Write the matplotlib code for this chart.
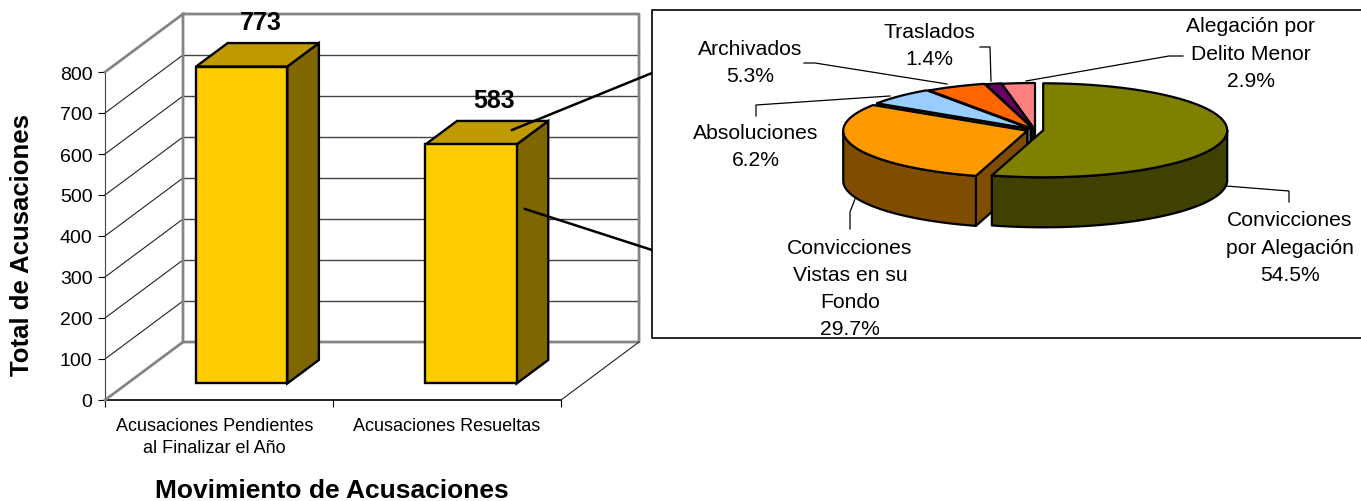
import numpy as np
import matplotlib
matplotlib.use("Agg")
import matplotlib.pyplot as plt

plt.rcParams['font.family'] = ['Liberation Sans', 'DejaVu Sans']

categories = ['Acusaciones Pendientes\nal Finalizar el Año', 'Acusaciones Resueltas']
totals = [773, 583]
y_ticks = [0, 100, 200, 300, 400, 500, 600, 700, 800]
x_title = 'Movimiento de Acusaciones'
y_title = 'Total de Acusaciones'

slice_names = ['Convicciones\npor Alegación', 'Convicciones\nVistas en su\nFondo',
               'Absoluciones', 'Archivados', 'Traslados', 'Alegación por\nDelito Menor']
slice_shares = [54.5, 29.7, 6.2, 5.3, 1.4, 2.9]
slice_colors = ['#808000', '#FF9900', '#99CCFF', '#FF6600', '#660066', '#FF8080']

# oblique depth of the 3D box, in bar-axes units per unit of depth
DX = 78 / 228
DY = 58 / 0.41
GRAY = '#858585'


def project(x, v, z):
    """Move a point of the front plane back along the depth axis."""
    return x + z * DX, v + z * DY


def draw_bar(ax, center, value, nudge):
    """Draw one 3D bar from its value."""
    x0, x1 = center - 0.2 + nudge, center + 0.2 + nudge
    z0, z1 = 0.285, 0.69
    front = [project(x0, 0, z0), project(x1, 0, z0), project(x1, value, z0), project(x0, value, z0)]
    side = [project(x1, 0, z0), project(x1, 0, z1), project(x1, value, z1), project(x1, value, z0)]
    top = [project(x0, value, z0), project(x1, value, z0), project(x1, value, z1), project(x0, value, z1)]
    for poly, color in ((side, '#806600'), (top, '#BF9900'), (front, '#FFCC00')):
        ax.fill(*zip(*poly), facecolor=color, edgecolor='black', linewidth=1.7,
                joinstyle='miter', clip_on=False, zorder=5)
    lx, ly = project(center, value, 0.69)
    ax.text(lx - 0.06 + nudge * 4, ly + 52, str(value), ha='center', va='center', fontsize=18,
            fontweight='bold', clip_on=False, zorder=6)


def draw_box(ax):
    """Draw walls, floor and grid lines of the 3D chart box."""
    for v in y_ticks[1:-1]:
        ax.plot(*zip(project(0, v, 0), project(0, v, 1)), color='#222222', lw=0.8, clip_on=False, zorder=2)
        ax.plot(*zip(project(0, v, 1), project(2, v, 1)), color='#444444', lw=1.0, clip_on=False, zorder=2)
    wall = [project(0, 800, 0), project(0, 800, 1), project(2, 800, 1), project(2, 0, 1),
            project(0, 0, 1), project(0, 800, 1)]
    ax.plot(*zip(*wall), color=GRAY, lw=2, clip_on=False, zorder=3)
    ax.plot(*zip(project(0, 0, 0), project(0, 0, 1)), color=GRAY, lw=2, clip_on=False, zorder=3)
    ax.plot(*zip(project(2, 0, 0), project(2, 0, 1)), color='#222222', lw=0.8, clip_on=False, zorder=3)


def draw_bars(fig):
    """Draw the left chart."""
    ax = fig.add_axes([105 / 1361, 1 - 401 / 502, 456 / 1361, 328 / 502])
    ax.set_xlim(0, 2)
    ax.set_ylim(0, 800)
    ax.patch.set_visible(False)
    for name in ('top', 'right'):
        ax.spines[name].set_visible(False)
    ax.spines['left'].set_color('#444444')
    ax.spines['bottom'].set_linewidth(1.2)

    draw_box(ax)
    draw_bar(ax, 0.5, totals[0], 0.002)
    draw_bar(ax, 1.5, totals[1], 0.008)

    ax.set_yticks(y_ticks)
    ax.tick_params(axis='y', labelsize=14, length=5, pad=4)
    ax.set_xticks([0, 1, 2], labels=[])
    ax.set_xticks([0.48, 1.5], labels=categories, minor=True)
    ax.tick_params(axis='x', which='major', length=5)
    ax.tick_params(axis='x', which='minor', length=0, labelsize=13, pad=12)
    for label in ax.get_xticklabels(minor=True):
        label.set_verticalalignment('top')
        label.set_linespacing(1.38)

    ax.set_xlabel(x_title, fontsize=19, fontweight='bold', va='center')
    ax.xaxis.set_label_coords(0.498, -0.274)
    ax.set_ylabel(y_title, fontsize=18.5, fontweight='bold', va='center')
    ax.yaxis.set_label_coords(-0.182, 0.477)


def rim(cx, cy, rx, ry, a0, a1, drop=0):
    """Points of the rim between two clockwise angles, taken from 12 o'clock."""
    t = np.radians(np.linspace(a0, a1, 80))
    return cx + rx * np.sin(t), cy - ry * np.cos(t) + drop


def draw_pie(ax):
    """Draw the exploded 3D pie from the slice shares, in pixel coordinates."""
    cx0, cy0, rx, ry, depth = 1035, 131, 184, 47, 50
    explode = [0.045, 0.045, 0.03, 0.02, 0.01, 0.0]
    edges = np.concatenate([[0], np.cumsum(slice_shares)]) * 3.6
    # back slices first, the first slice goes on top of everything
    order = [5, 4, 3, 2, 1, 0]
    z = 20
    for i in order:
        a0, a1 = edges[i], edges[i + 1]
        mid = np.radians((a0 + a1) / 2)
        cx = cx0 + explode[i] * rx * np.sin(mid)
        cy = cy0 - explode[i] * ry * np.cos(mid)
        color = np.array(matplotlib.colors.to_rgb(slice_colors[i]))
        dark = color * 0.5
        kw = dict(edgecolor='black', linewidth=1.6, joinstyle='round')
        if 0 < i:
            # radial face at the start of the slice
            px, py = rim(cx, cy, rx, ry, a0, a0)
            face_x = [cx, px[0], px[0], cx]
            face_y = [cy, py[0], py[0] + depth, cy + depth]
            ax.fill(face_x, face_y, facecolor=dark, zorder=z, **kw)
            z += 1
        lo, hi = max(a0, 90), min(a1, 270)
        if lo < hi:
            wx, wy = rim(cx, cy, rx, ry, lo, hi)
            bx, by = rim(cx, cy, rx, ry, hi, lo, depth)
            ax.fill(np.r_[wx, bx], np.r_[wy, by], facecolor=dark, zorder=z, **kw)
            z += 1
        tx, ty = rim(cx, cy, rx, ry, a0, a1)
        ax.fill(np.r_[cx, tx], np.r_[cy, ty], facecolor=color, zorder=z, **kw)
        z += 1


def draw_pie_labels(ax):
    """Write the slice labels and their leader lines."""
    spots = [(1290, 248), (850, 289), (756, 147), (750, 63), (929, 46), (1251, 54)]
    leaders = [[(1289, 203), (1289, 192), (1226, 187)],
               [(850, 230), (850, 213), (855, 200)],
               [(756, 117), (756, 106), (890, 97)],
               [(804, 64), (815, 64), (947, 85)],
               [(980, 48), (990, 48), (991, 82)],
               [(1183, 57), (1169, 57), (1026, 82)]]
    for name, share, spot, leader in zip(slice_names, slice_shares, spots, leaders):
        ax.text(spot[0], spot[1], f'{name}\n{share}%', ha='center', va='center',
                fontsize=15.2, linespacing=1.54, zorder=40)
        ax.plot(*zip(*leader), color='black', lw=0.9, zorder=10)


def main():
    """Build the figure and save it."""
    fig = plt.figure(figsize=(13.61, 5.02), dpi=100)
    draw_bars(fig)

    top = fig.add_axes([0, 0, 1, 1])
    top.set_xlim(0, 1361)
    top.set_ylim(502, 0)
    top.axis('off')
    top.patch.set_visible(False)

    # connector lines from the second bar to the detail box
    top.plot([512, 652], [131, 74], color='black', lw=1.8, zorder=8)
    top.plot([525, 652], [210, 251], color='black', lw=1.8, zorder=8)
    top.fill([652, 1362, 1362, 652], [11, 11, 339, 339], facecolor='white',
             edgecolor='black', linewidth=1.2, zorder=9)

    draw_pie(top)
    draw_pie_labels(top)
    fig.savefig('out.png', dpi=100)


if __name__ == "__main__":
    main()
